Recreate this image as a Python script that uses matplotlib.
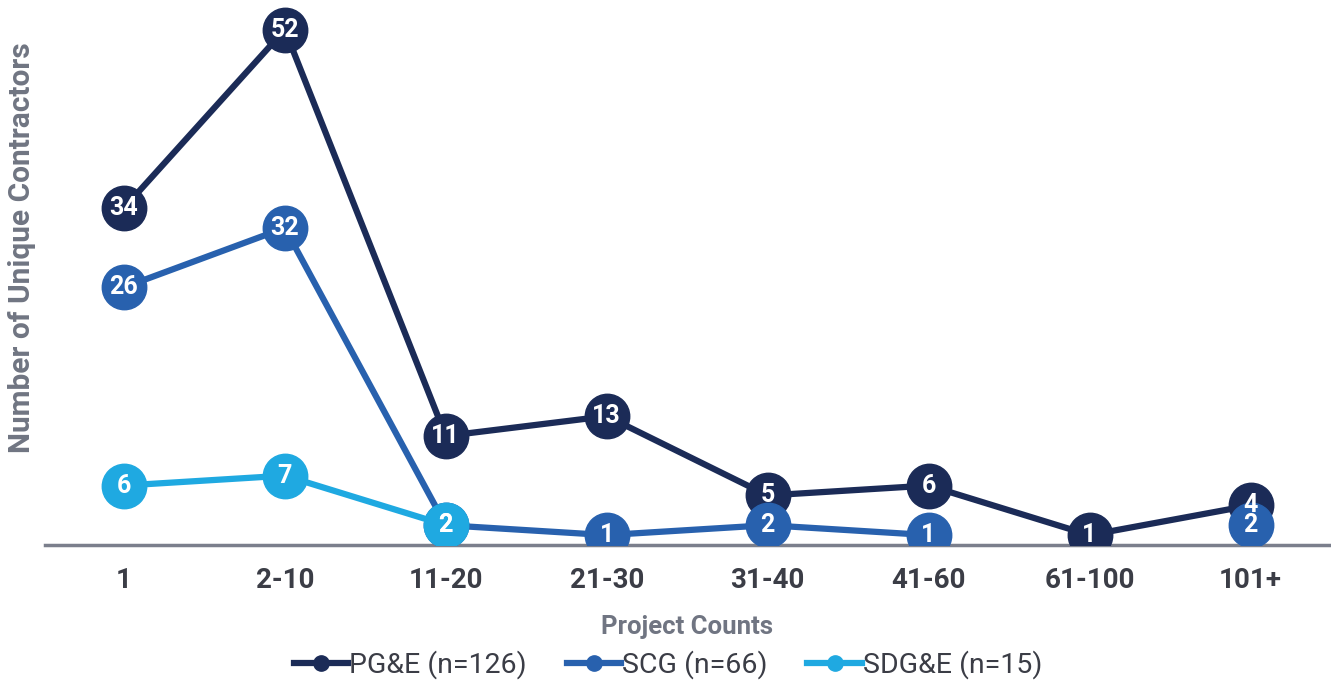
import numpy as np
import matplotlib
matplotlib.use("Agg")
import matplotlib.pyplot as plt

categories = ["1", "2-10", "11-20", "21-30", "31-40", "41-60", "61-100", "101+"]
pge = [34, 52, 11, 13, 5, 6, 1, 4]
scg = [26, 32, 2, 1, 2, 1, np.nan, 2]
sdge = [6, 7, 2, np.nan, np.nan, np.nan, np.nan, np.nan]

series = [
    ("PG&E (n=126)", pge, "#1b2b57"),
    ("SCG (n=66)", scg, "#2861ae"),
    ("SDG&E (n=15)", sdge, "#1fa9e1"),
]

plt.rcParams["font.family"] = ["Roboto", "DejaVu Sans"]

fig = plt.figure(figsize=(13.31, 6.85), dpi=100)
ax = fig.add_axes([45 / 1331, 140 / 685, 1 - 45 / 1331, 545 / 685])

x = np.arange(len(categories))
for name, vals, col in series:
    ax.plot(x, vals, color=col, lw=4.5, marker="o", ms=32, zorder=3,
            label=name, solid_capstyle="round")
    for xi, v in zip(x, vals):
        if not np.isnan(v):
            ax.text(xi, v, str(int(v)), color="white", fontsize=18,
                    fontweight="semibold", ha="center", va="center", zorder=4)

ax.set_xlim(-0.49, 7.5)
ax.set_ylim(0, 55)
ax.set_xticks(x)
ax.set_xticklabels(categories, fontsize=20, fontweight="bold", color="#3b3d46")
ax.tick_params(axis="x", length=0, pad=16)
ax.set_yticks([])
for s in ["top", "right", "left"]:
    ax.spines[s].set_visible(False)
ax.spines["bottom"].set_color("#7b7f8c")
ax.spines["bottom"].set_linewidth(2.5)
ax.spines["bottom"].set_zorder(1)

fig.text(687 / 1331, 1 - 627 / 685, "Project Counts", ha="center", va="center",
         fontsize=18.5, fontweight="bold", color="#707582")
fig.text(22 / 1331, 1 - 248 / 685, "Number of Unique Contractors", rotation=90,
         ha="center", va="center", fontsize=21.5, fontweight="bold", color="#707582")

handles = [plt.Line2D([], [], color=c, lw=4.5, marker="o", ms=11) for _, _, c in series]
leg = fig.legend(handles, [n for n, _, _ in series], loc="center", ncol=3,
                 bbox_to_anchor=(668 / 1331, 1 - 665 / 685), frameon=False,
                 fontsize=20.5, handlelength=1.9, columnspacing=1.4, handletextpad=0.05,
                 borderpad=0)
for t in leg.get_texts():
    t.set_color("#3b3d46")

fig.savefig("out.png", dpi=100)
